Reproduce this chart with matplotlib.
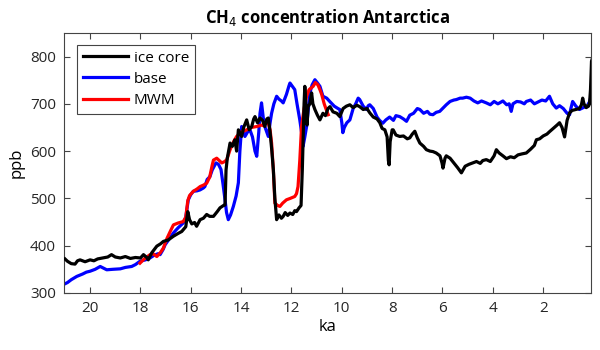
import matplotlib
matplotlib.use("Agg")
import matplotlib.pyplot as plt
import numpy as np

plt.rcParams['font.family'] = ['Open Sans', 'DejaVu Sans']

# ice core record (ka, ppb)
ice_ka = [21.0, 20.9, 20.75, 20.6, 20.5, 20.4, 20.2, 20.0, 19.85, 19.7, 19.5, 19.3, 19.15, 19.0, 18.8,
          18.6, 18.4, 18.2, 18.0, 17.88, 17.75, 17.69, 17.55, 17.45, 17.35, 17.2, 17.09, 16.9, 16.69,
          16.5, 16.36, 16.2, 16.12, 16.05, 15.96, 15.85, 15.77, 15.63, 15.5, 15.37, 15.25, 15.1, 14.95,
          14.84, 14.7, 14.64, 14.6, 14.55, 14.44, 14.35, 14.25, 14.18, 14.11, 13.98, 13.9, 13.78, 13.68,
          13.58, 13.5, 13.45, 13.35, 13.25, 13.15, 13.06, 12.98, 12.92, 12.85, 12.78, 12.72, 12.66, 12.59,
          12.5, 12.4, 12.33, 12.25, 12.15, 12.06, 11.95, 11.87, 11.8, 11.7, 11.62, 11.57, 11.54, 11.5,
          11.47, 11.42, 11.38, 11.34, 11.27, 11.2, 11.15, 11.07, 10.97, 10.87, 10.75, 10.65, 10.55, 10.47,
          10.35, 10.2, 10.08, 9.95, 9.82, 9.68, 9.55, 9.4, 9.29, 9.15, 9.0, 8.89, 8.75, 8.6, 8.49, 8.4,
          8.29, 8.2, 8.15, 8.12, 8.08, 8.0, 7.96, 7.85, 7.7, 7.55, 7.4, 7.3, 7.2, 7.1, 7.0, 6.9, 6.75,
          6.64, 6.5, 6.38, 6.25, 6.1, 6.02, 5.98, 5.9, 5.85, 5.7, 5.55, 5.4, 5.25, 5.1, 4.95, 4.8, 4.65,
          4.5, 4.4, 4.26, 4.1, 3.95, 3.86, 3.75, 3.6, 3.46, 3.3, 3.15, 3.0, 2.85, 2.67, 2.5, 2.35, 2.27,
          2.14, 2.0, 1.85, 1.75, 1.6, 1.45, 1.35, 1.25, 1.15, 1.05, 0.95, 0.85, 0.7, 0.56, 0.48, 0.43,
          0.38, 0.29, 0.2, 0.16, 0.12, 0.08, 0.05]
ice_ppb = [372, 367, 362, 361, 368, 370, 366, 370, 368, 372, 374, 376, 381, 376, 374,
           377, 373, 375, 374, 381, 375, 370, 385, 392, 399, 404, 409, 412, 420,
           426, 430, 440, 472, 455, 446, 449, 441, 455, 458, 466, 462, 462, 472,
           480, 485, 486, 560, 585, 617, 610, 624, 600, 645, 631, 650, 666, 645,
           652, 668, 673, 660, 670, 665, 652, 668, 670, 640, 600, 560, 500, 455,
           465, 458, 462, 470, 464, 469, 466, 474, 472, 480, 485, 560, 617, 700,
           737, 690, 655, 694, 700, 723, 700, 688, 676, 666, 680, 675, 690, 694,
           683, 680, 673, 690, 695, 698, 692, 697, 694, 688, 690, 681, 672, 668, 660, 648,
           645, 630, 580, 571, 620, 645, 645, 634, 631, 632, 626, 628, 636, 642, 628, 617, 610,
           603, 600, 599, 596, 590, 575, 564, 585, 590, 585, 575, 565, 554, 568, 572, 575, 578,
           574, 580, 582, 578, 590, 603, 596, 590, 584, 588, 586, 592, 594, 596, 604, 612, 624,
           626, 632, 636, 641, 648, 655, 660, 650, 630, 665, 681, 686, 688, 690, 698, 712,
           700, 692, 695, 700, 730, 790, 795]

# base simulation
base_ka = [21.05, 20.9, 20.75, 20.53, 20.3, 20.15, 20.0, 19.8, 19.6, 19.45, 19.34, 19.1, 18.8, 18.6,
           18.35, 18.2, 18.02, 17.8, 17.62, 17.45, 17.3, 17.22, 17.1, 17.02, 16.85, 16.69, 16.5, 16.3,
           16.2, 16.1, 16.0, 15.9, 15.75, 15.63, 15.5, 15.44, 15.35, 15.24, 15.15, 15.0, 14.9, 14.8,
           14.72, 14.64, 14.58, 14.51, 14.42, 14.31, 14.2, 14.11, 14.05, 13.98, 13.9, 13.85, 13.75,
           13.65, 13.55, 13.45, 13.38, 13.3, 13.25, 13.19, 13.12, 13.06, 12.98, 12.92, 12.85, 12.79,
           12.7, 12.59, 12.5, 12.4, 12.33, 12.2, 12.1, 12.06, 11.95, 11.87, 11.78, 11.67, 11.6, 11.54,
           11.47, 11.4, 11.33, 11.27, 11.18, 11.07, 10.98, 10.87, 10.8, 10.75, 10.6, 10.48, 10.3,
           10.15, 10.08, 10.0, 9.96, 9.9, 9.8, 9.68, 9.55, 9.45, 9.35, 9.29, 9.15, 9.02, 8.95, 8.89,
           8.75, 8.6, 8.5, 8.37, 8.25, 8.1, 7.95, 7.85, 7.7, 7.55, 7.43, 7.3, 7.15, 7.0, 6.9, 6.75,
           6.6, 6.5, 6.38, 6.25, 6.11, 6.0, 5.85, 5.7, 5.55, 5.45, 5.3, 5.2, 5.05, 4.9, 4.75, 4.6,
           4.45, 4.26, 4.1, 3.95, 3.8, 3.73, 3.6, 3.45, 3.35, 3.27, 3.2, 3.05, 2.9, 2.75, 2.67, 2.5,
           2.35, 2.2, 2.05, 1.9, 1.75, 1.62, 1.48, 1.35, 1.2, 1.05, 0.95, 0.9, 0.83, 0.7, 0.56, 0.4,
           0.25, 0.15, 0.1]
base_ppb = [318, 322, 328, 335, 340, 344, 346, 350, 356, 352, 349, 350, 351, 354,
            356, 360, 367, 370, 374, 380, 383, 381, 392, 402, 415, 427, 438, 448,
            460, 497, 508, 515, 516, 518, 522, 525, 540, 546, 560, 575, 572, 561,
            530, 497, 470, 455, 465, 483, 505, 533, 600, 652, 640, 631, 640,
            645, 630, 600, 589, 640, 680, 702, 670, 652, 640, 631, 660, 680,
            700, 716, 710, 706, 702, 720, 738, 744, 736, 730, 700, 666, 640, 610,
            630, 652, 690, 723, 740, 751, 745, 737, 725, 716, 712, 705, 695,
            690, 688, 660, 639, 650, 660, 666, 690, 700, 712, 709, 695, 688, 696, 698,
            690, 672, 665, 659, 666, 672, 665, 675, 673, 668, 663, 676, 680, 690, 688, 680,
            684, 678, 677, 682, 684, 690, 698, 705, 708, 709, 712, 712, 714, 712, 706, 702,
            706, 702, 698, 705, 700, 702, 706, 698, 700, 684, 700, 705, 704, 700, 705, 708,
            700, 704, 708, 706, 716, 700, 691, 696, 690, 680, 677, 690, 705, 695, 688, 692,
            696, 705, 716]

# MWM simulation
mwm_ka = [18.02, 17.85, 17.62, 17.5, 17.35, 17.2, 17.09, 16.95, 16.8, 16.69, 16.5, 16.3, 16.2, 16.12,
          16.05, 15.9, 15.75, 15.63, 15.5, 15.37, 15.25, 15.15, 15.1, 14.97, 14.87, 14.77, 14.65,
          14.57, 14.44, 14.3, 14.18, 14.0, 13.78, 13.6, 13.38, 13.2, 13.12, 13.0, 12.92, 12.85, 12.79,
          12.72, 12.66, 12.55, 12.46, 12.35, 12.2, 12.05, 11.87, 11.8, 11.74, 11.67, 11.6, 11.5, 11.4,
          11.3, 11.14, 11.05, 10.95, 10.87, 10.8, 10.7, 10.6, 10.54]
mwm_ppb = [363, 372, 381, 383, 377, 386, 395, 415, 432, 444, 448, 451, 460, 495,
           506, 515, 520, 525, 528, 532, 545, 570, 581, 585, 580, 575, 578,
           582, 603, 620, 631, 640, 645, 650, 652, 655, 654, 660, 659, 645, 617,
           560, 490, 485, 483, 490, 497, 500, 504, 510, 525, 580, 652, 690, 716,
           730, 737, 745, 740, 730, 720, 700, 685, 677]

fig = plt.figure(figsize=(6, 3.5), dpi=100)
ax = fig.add_axes([0.107, 0.163, 0.878, 0.743])

ax.plot(ice_ka, ice_ppb, color='black', lw=2.3, label='ice core', zorder=3)
ax.plot(base_ka, base_ppb, color='blue', lw=2.3, label='base', zorder=1)
ax.plot(mwm_ka, mwm_ppb, color='red', lw=2.3, label='MWM', zorder=2)

ax.set_xlim(21.03, 0.1)
ax.set_ylim(300, 850)
ax.set_xticks([20, 18, 16, 14, 12, 10, 8, 6, 4, 2])
ax.set_yticks([300, 400, 500, 600, 700, 800])
ax.tick_params(direction='in', top=True, right=True, labelsize=11, length=4, pad=6,
               color='#444444', labelcolor='#262626')
for s in ax.spines.values():
    s.set_color('#444444')
    s.set_linewidth(0.8)

ax.set_xlabel('ka', fontsize=12, labelpad=2)
ax.set_ylabel('ppb', fontsize=12, labelpad=4)
ax.set_title('CH$_4$ concentration Antarctica', fontsize=12, fontweight='bold', pad=7)

leg = ax.legend(loc='upper left', bbox_to_anchor=(0.025, 0.955), fontsize=11, fancybox=False,
                framealpha=1, handlelength=2.9, handletextpad=0.4, borderpad=0.4,
                labelspacing=0.4, borderaxespad=0)
leg.get_frame().set_edgecolor('#444444')
leg.get_frame().set_linewidth(0.8)

fig.savefig('out.png', dpi=100)
